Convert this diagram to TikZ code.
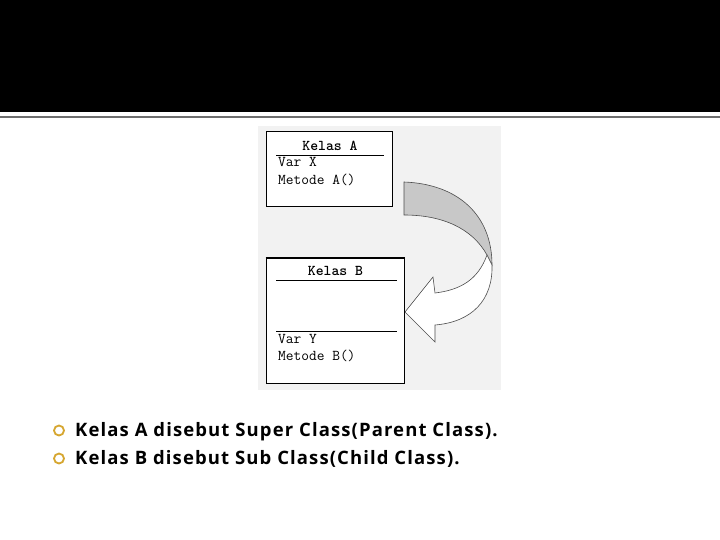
\documentclass[tikz,border=0pt]{standalone}
\usepackage{fontspec}
\setmainfont{Open Sans}
\newfontfamily\pointfont{Open Sans}[LetterSpace=6]
\usepackage{tikz}
\usetikzlibrary{positioning}
\definecolor{bandgrey}{HTML}{6E6E6E}
\definecolor{picbg}{HTML}{F2F2F2}
\definecolor{ribbongrey}{HTML}{C8C8C8}
\definecolor{bulletgold}{HTML}{D6A630}
\tikzstyle{classbox} =
[rectangle, draw=black, line width=1pt, fill=white, inner sep=0pt]
\tikzstyle{classname} =
[font=\ttfamily\bfseries\fontsize{15}{17}\selectfont, inner sep=0pt]
\tikzstyle{member} =
[font=\ttfamily\fontsize{15}{17}\selectfont, anchor=west,
inner sep=0pt, text height=9pt, text depth=2pt]
\tikzstyle{rule} = [draw=black, line width=0.8pt]
\tikzstyle{point} =
[font=\pointfont\bfseries\fontsize{18.5}{22}\selectfont, anchor=base west, inner sep=0pt]
\tikzstyle{bullet} =
[circle, draw=bulletgold, line width=1.8pt, minimum size=10pt, inner sep=0pt]

\begin{document}
\begin{tikzpicture}[x=1pt, y=-1pt, node distance=28pt]
  \useasboundingbox (0,0) rectangle (720,540);
  \fill[white] (0,0) rectangle (720,540);
  % title band
  \fill[black] (0,0) rectangle (720,112);
  \draw[bandgrey, line width=1.5pt] (0,117) -- (720,117);
  \fill[picbg] (258,126) rectangle (501,390);
  % class A
  \node [classbox, minimum width=126pt, minimum height=75pt] (kelasa) at (329,169.5) {};
  \node [classname] (namea) at (330,146) {Kelas A};
  \draw [rule] (276,155) -- (384,155);
  \node [member] (varx) at (278,163.5) {Var X};
  \node [member, below=6pt of varx.south west, anchor=north west] (metodea) {Metode A()};
  % class B
  \node [classbox, minimum width=138pt, minimum height=125pt] (kelasb) at (335,320.5) {};
  \draw [line width=2pt] (kelasb.north west) -- (kelasb.north east);
  \node [classname] (nameb) at (335.5,271) {Kelas B};
  \draw [rule] (276,280) -- (397,280);
  \draw [rule] (276,331) -- (397,331);
  \node [member] (vary) at (278,339.5) {Var Y};
  \node [member, below=6pt of vary.south west, anchor=north west] (metodeb) {Metode B()};
  % curved arrow
  \filldraw [fill=ribbongrey, draw=black!70, line width=0.6pt]
    (404,182) .. controls (458,184) and (492,215) .. (492,265)
    -- (487,255) .. controls (472,228) and (442,215) .. (404,215) -- cycle;
  \filldraw [fill=white, draw=black!70, line width=0.6pt]
    (487,255) .. controls (478,280) and (460,290) .. (435,293)
    -- (433,277) -- (405,312) -- (435,342) -- (435,325)
    .. controls (472,322) and (493,300) .. (492,265) -- cycle;
  % points
  \node [bullet] (dota) at (59,430.5) {};
  \node [point] (pointa) at (75,436) {Kelas A disebut Super Class(Parent Class).};
  \node [bullet, below of=dota] (dotb) {};
  \node [point] (pointb) at (75,464) {Kelas B disebut Sub Class(Child Class).};
\end{tikzpicture}
\end{document}
